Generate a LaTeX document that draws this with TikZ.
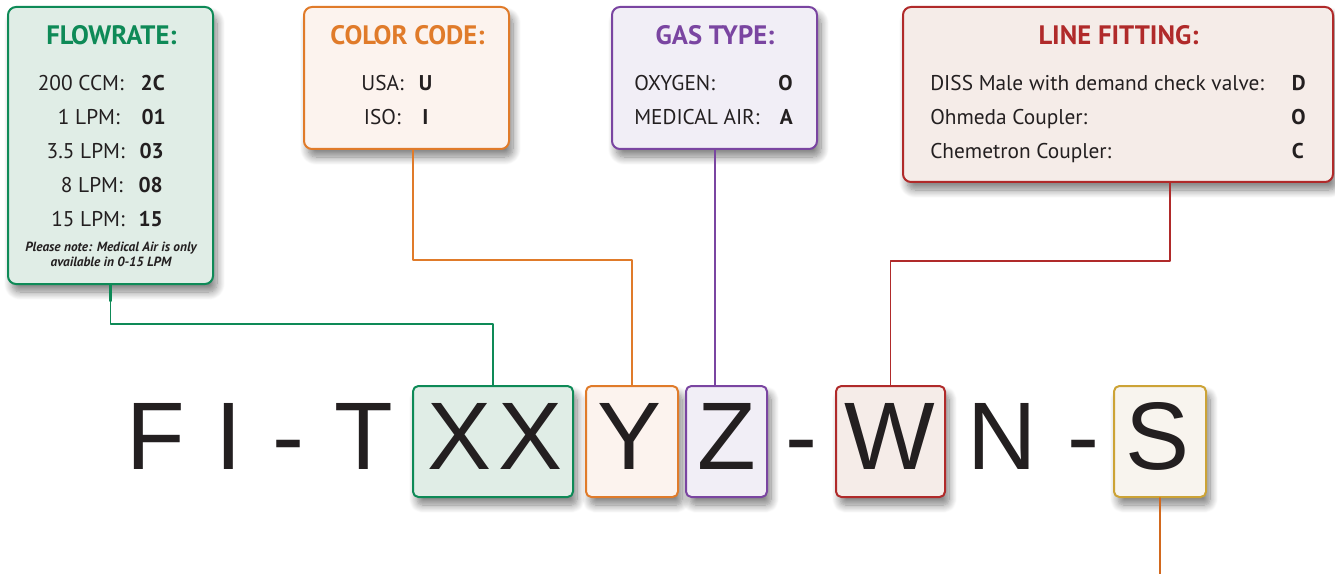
\documentclass[tikz,border=0pt]{standalone}
\usepackage{fontspec}
\setmainfont{PT Sans}
\newfontfamily\codefont{Liberation Sans}
\usetikzlibrary{shadows.blur}
\definecolor{ink}{HTML}{231F20}
\definecolor{flowgreen}{HTML}{0E8A57}
\definecolor{flowfill}{HTML}{E0EDE6}
\definecolor{colororange}{HTML}{E07B2A}
\definecolor{colorfill}{HTML}{FCF3EE}
\definecolor{gaspurple}{HTML}{7A45A1}
\definecolor{gasfill}{HTML}{F1EEF6}
\definecolor{fitred}{HTML}{B02A2A}
\definecolor{fitfill}{HTML}{F5ECE8}
\definecolor{sgold}{HTML}{CCA336}
\definecolor{sfill}{HTML}{F8F4EE}
\definecolor{sline}{HTML}{D2691E}
\begin{document}
\begin{tikzpicture}[x=0.75pt, y=-0.75pt, line join=round, line cap=round,
    box/.style={draw, line width=1.5pt, rounded corners=6pt, inner sep=0pt,
      blur shadow={shadow xshift=3pt, shadow yshift=-6pt, shadow opacity=50, shadow blur radius=6pt, shadow blur steps=10}},
    codebox/.style={box, rounded corners=4pt, minimum height=83.25pt},
    heading/.style={inner sep=0pt, anchor=base, font=\fontsize{20}{22}\selectfont\bfseries},
    entry/.style={inner sep=0pt, text=ink, font=\fontsize{16}{18}\selectfont},
    value/.style={entry, font=\fontsize{16}{18}\selectfont\bfseries},
    note/.style={inner sep=0pt, anchor=base, text=ink, font=\fontsize{10}{11}\selectfont\bfseries\itshape},
    code/.style={inner sep=0pt, anchor=base, text=ink, font=\fontsize{72}{72}\codefont},
    conn/.style={line width=1pt}]
  \useasboundingbox (0,0) rectangle (1335,574);

  % legend boxes
  \node[box, draw=flowgreen, fill=flowfill, minimum width=153.75pt, minimum height=207.75pt] (flow) at (110.5,145.5) {};
  \node[box, draw=colororange, fill=colorfill, minimum width=153.75pt, minimum height=106.5pt] (color) at (406.5,78) {};
  \node[box, draw=gaspurple, fill=gasfill, minimum width=153.75pt, minimum height=106.5pt] (gas) at (714.5,78) {};
  \node[box, draw=fitred, fill=fitfill, minimum width=322.5pt, minimum height=131.25pt] (fit) at (1118,94.5) {};

  % flowrate
  \node[heading, text=flowgreen] (flowtitle) at (111.5,45) {FLOWRATE:};
  \node[entry, anchor=base east] (fa) at (124,91) {200 CCM:};
  \node[value, anchor=base east] (fav) at (165,91) {2C};
  \node[entry, anchor=base east] (fb) at (120,125) {1 LPM:};
  \node[value, anchor=base east] (fbv) at (166,125) {01};
  \node[entry, anchor=base east] (fc) at (125,159) {3.5 LPM:};
  \node[value, anchor=base east] (fcv) at (164,159) {03};
  \node[entry, anchor=base east] (fd) at (123,193) {8 LPM:};
  \node[value, anchor=base east] (fdv) at (163,193) {08};
  \node[entry, anchor=base east] (fe) at (125,227) {15 LPM:};
  \node[value, anchor=base east] (fev) at (163,227) {15};
  \node[note] (note1) at (111,251) {Please note: Medical Air is only};
  \node[note] (note2) at (111,267) {available in 0-15 LPM};

  % color code
  \node[heading, text=colororange] (colortitle) at (407.5,45) {COLOR CODE:};
  \node[entry, anchor=base east] (usa) at (404,91) {USA:};
  \node[value, anchor=base] (usav) at (425.5,91) {U};
  \node[entry, anchor=base east] (iso) at (401,125) {ISO:};
  \node[value, anchor=base] (isov) at (425.5,125) {I};

  % gas type
  \node[heading, text=gaspurple] (gastitle) at (715,45) {GAS TYPE:};
  \node[entry, anchor=base west] (oxy) at (634,91) {OXYGEN:};
  \node[value, anchor=base east] (oxyv) at (793,91) {O};
  \node[entry, anchor=base west] (air) at (634,125) {MEDICAL AIR:};
  \node[value, anchor=base east] (airv) at (793,125) {A};

  % line fitting
  \node[heading, text=fitred] (fittitle) at (1118.5,45) {LINE FITTING:};
  \node[entry, anchor=base west] (diss) at (930,91) {DISS Male with demand check valve:};
  \node[value, anchor=base east] (dissv) at (1306,91) {D};
  \node[entry, anchor=base west] (ohm) at (930,125) {Ohmeda Coupler:};
  \node[value, anchor=base east] (ohmv) at (1306,125) {O};
  \node[entry, anchor=base west] (chem) at (930,159) {Chemetron Coupler:};
  \node[value, anchor=base east] (chemv) at (1304,159) {C};

  % code boxes
  \node[codebox, draw=flowgreen, fill=flowfill, minimum width=120pt] (xx) at (493,441.5) {};
  \node[codebox, draw=colororange, fill=colorfill, minimum width=69pt] (y) at (632,441.5) {};
  \node[codebox, draw=gaspurple, fill=gasfill, minimum width=60.75pt] (z) at (726.5,441.5) {};
  \node[codebox, draw=fitred, fill=fitfill, minimum width=81.75pt] (w) at (890.5,441.5) {};
  \node[codebox, draw=sgold, fill=sfill, minimum width=69pt] (s) at (1160,441.5) {};

  % part number
  \node[code] (cf) at (156,469) {F};
  \node[code] (ci) at (229,469) {I};
  \node[code] (cd1) at (288.5,469) {-};
  \node[code] (ct) at (363.5,469) {T};
  \node[code] (cx1) at (460,469) {X};
  \node[code] (cx2) at (531,469) {X};
  \node[code] (cy) at (630,469) {Y};
  \node[code] (cz) at (726.5,469) {Z};
  \node[code] (cd2) at (801.5,469) {-};
  \node[code] (cw) at (890,469) {W};
  \node[code] (cn) at (1002.5,469) {N};
  \node[code] (cd3) at (1083.5,469) {-};
  \node[code] (cs) at (1158,469) {S};

  % connectors
  \draw[conn, flowgreen] (flow.south) -- ++(0,39) -| (xx.north);
  \draw[line width=2pt, flowgreen] (flow.south) -- ++(0,16);
  \draw[conn, colororange] (color.south) ++(6.5,0) -- ++(0,110) -| (y.north);
  \draw[line width=2pt, colororange] (color.south) ++(6.5,0) -- ++(0,22);
  \draw[line width=1.5pt, gaspurple] (gas.south) -- (gas.south |- z.north);
  \draw[conn, fitred] (fit.south) ++(52,0) -- ++(0,78) -| (w.north);
  \draw[line width=2pt, fitred] (fit.south) ++(52,0) -- ++(0,24);
  \coordinate (send) at (1160,574);
  \draw[line width=1.5pt, sline] (s.south) -- (send);
\end{tikzpicture}
\end{document}
